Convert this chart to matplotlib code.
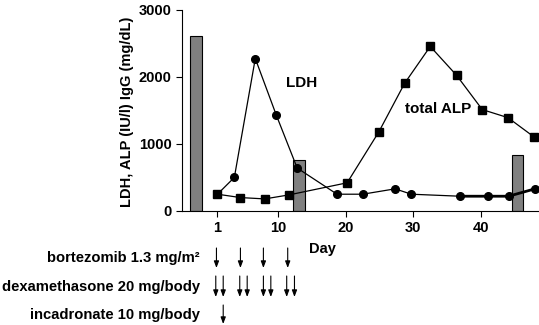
import matplotlib.pyplot as plt

plt.rcParams["font.family"] = ["Liberation Sans", "DejaVu Sans"]
plt.rcParams["font.weight"] = "bold"
plt.rcParams["axes.labelweight"] = "bold"

# IgG bars (mg/dL)
igg_days = [-2.2, 13.1, 45.4]
igg_values = [2600, 760, 830]

# LDH (IU/l)
ldh_days = [1, 3.5, 6.6, 9.7, 12.8, 18.7, 22.5, 27.3, 29.7, 36.9, 41, 44.1, 48]
ldh_values = [250, 500, 2270, 1430, 640, 250, 250, 330, 250, 220, 220, 220, 330]

# total ALP (IU/l)
alp_days = [1, 4.4, 8.0, 11.6, 20.2, 24.9, 28.7, 32.5, 36.4, 40.2, 44.0, 47.9]
alp_values = [250, 200, 180, 240, 420, 1180, 1900, 2450, 2020, 1510, 1390, 1100]

# treatment schedule
bortezomib_days = [0.85, 4.4, 7.8, 11.4]
dexamethasone_days = [0.75, 1.85, 4.3, 5.4, 7.8, 8.9, 11.25, 12.4]
incadronate_days = [1.85]

fig = plt.figure(figsize=(5.39, 3.25), dpi=100)
ax = fig.add_axes([182 / 539, 114 / 325, 357 / 539, 201.5 / 325])

ax.bar(igg_days, igg_values, width=1.7, color="#808080", edgecolor="black", linewidth=0.8, zorder=1)
ax.plot(alp_days, alp_values, color="black", lw=0.9, marker="s", ms=5.5, zorder=3)
ax.plot(ldh_days, ldh_values, color="black", lw=0.9, marker="o", ms=5.5, zorder=3)
ax.plot(ldh_days[-4:], ldh_values[-4:], color="black", lw=2, zorder=3)

ax.text(13.5, 1900, "LDH", fontsize=11, fontweight="bold", ha="center", va="center")
ax.text(33.6, 1520, "total ALP", fontsize=11, fontweight="bold", ha="center", va="center")

ax.set_xlim(-4.25, 48.6)
ax.set_ylim(0, 3000)
ax.set_xticks([1, 10, 20, 30, 40])
ax.set_yticks([0, 1000, 2000, 3000])
ax.tick_params(labelsize=10.5, length=4, width=0.8)
for lbl in ax.get_xticklabels() + ax.get_yticklabels():
    lbl.set_fontweight("bold")
ax.spines["top"].set_visible(False)
ax.spines["right"].set_visible(False)
ax.spines["left"].set_bounds(0, 3000)
ax.set_xlabel("Day", fontsize=10.5)
ax.xaxis.set_label_coords(0.392, -0.152)
ax.set_ylabel("LDH, ALP (IU/l) IgG (mg/dL)", fontsize=10.5)
ax.yaxis.set_label_coords(-0.134, 0.49)

# drug labels and arrows (y in figure pixels)
rows = [
    ("bortezomib 1.3 mg/m\u00b2", bortezomib_days, 325 - 248, 325 - 268),
    ("dexamethasone 20 mg/body", dexamethasone_days, 325 - 276, 325 - 297),
    ("incadronate 10 mg/body", incadronate_days, 325 - 305, 325 - 324),
]
for label, days, y_top, y_bot in rows:
    fig.text(200 / 539, (y_top + y_bot) / 2 / 325, label, fontsize=10.6, fontweight="bold",
             ha="right", va="center")
    for d in days:
        ax.annotate("", xy=(d, y_bot), xytext=(d, y_top),
                    xycoords=("data", "figure pixels"), textcoords=("data", "figure pixels"),
                    arrowprops=dict(arrowstyle="-|>,head_length=0.4,head_width=0.15",
                                    color="black", lw=0.8, shrinkA=0, shrinkB=0),
                    annotation_clip=False)

fig.savefig("out.png", dpi=100)
